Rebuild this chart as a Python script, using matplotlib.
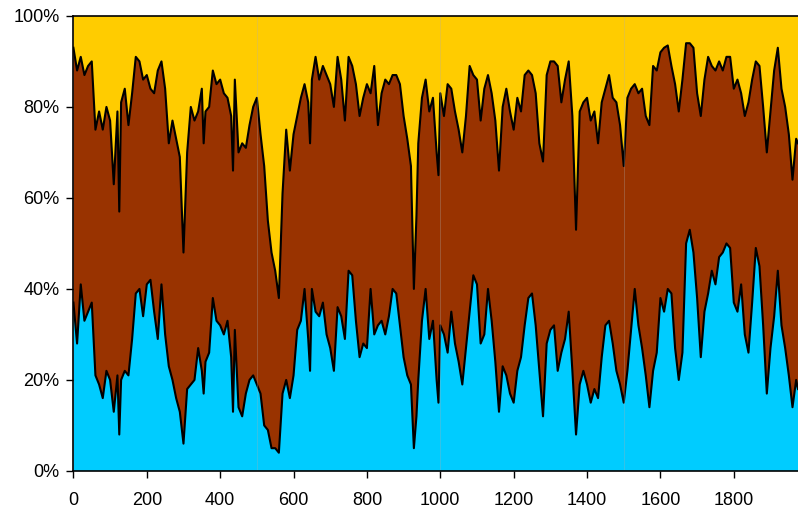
import numpy as np
import matplotlib.pyplot as plt
from matplotlib.ticker import PercentFormatter

# puntos de muestreo (eje x)
x = [0, 10, 20, 30, 40, 50, 60, 70, 80, 90, 100, 110, 120, 125, 130, 140, 150, 160, 170, 180,
     190, 200, 210, 220, 230, 240, 250, 260, 270, 280, 290, 300, 310, 320, 330, 340, 350, 355, 360, 370,
     380, 390, 400, 410, 420, 430, 435, 440, 450, 460, 470, 480, 490, 500, 510, 520, 530, 540, 550, 560,
     570, 580, 590, 600, 610, 620, 630, 640, 645, 650, 660, 670, 680, 690, 700, 710, 720, 730, 740, 750,
     760, 770, 780, 790, 800, 810, 820, 830, 840, 850, 860, 870, 880, 890, 900, 910, 920, 928, 935, 940,
     950, 960, 970, 980, 990, 995, 1000, 1010, 1020, 1030, 1040, 1050, 1060, 1070, 1080, 1090, 1100, 1110, 1120, 1130,
     1140, 1150, 1160, 1170, 1180, 1190, 1200, 1210, 1220, 1230, 1240, 1250, 1260, 1270, 1280, 1290, 1300, 1310, 1320, 1330,
     1340, 1350, 1360, 1370, 1380, 1390, 1400, 1410, 1420, 1430, 1440, 1450, 1460, 1470, 1480, 1490, 1500, 1510, 1520, 1530,
     1540, 1550, 1560, 1570, 1580, 1590, 1600, 1610, 1620, 1630, 1640, 1650, 1660, 1670, 1680, 1690, 1700, 1710, 1720, 1730,
     1740, 1750, 1760, 1770, 1780, 1790, 1800, 1810, 1820, 1830, 1840, 1850, 1860, 1870, 1880, 1890, 1900, 1910, 1920, 1930,
     1940, 1950, 1960, 1970, 1975]

# limite azul / marron (%)
inferior = [37, 28, 41, 33, 35, 37, 21, 19, 16, 22, 20, 13, 21, 8, 20, 22, 21, 29, 39, 40,
            34, 41, 42, 35, 29, 41, 30, 23, 20, 16, 13, 6, 18, 19, 20, 27, 22, 17, 24, 26,
            38, 33, 32, 30, 33, 25, 13, 31, 14, 12, 17, 20, 21, 19, 17, 10, 9, 5, 5, 4,
            17, 20, 16, 21, 31, 33, 40, 29, 22, 40, 35, 34, 37, 30, 27, 22, 36, 34, 29, 44,
            43, 33, 25, 28, 27, 40, 30, 32, 33, 30, 34, 40, 39, 32, 25, 21, 19, 5, 12, 20,
            33, 40, 29, 33, 20, 15, 32, 30, 26, 35, 28, 24, 19, 27, 35, 43, 41, 28, 30, 40,
            33, 24, 13, 23, 21, 17, 15, 22, 25, 32, 38, 39, 32, 22, 12, 28, 31, 32, 22, 26,
            29, 35, 22, 8, 19, 22, 19, 15, 18, 16, 25, 32, 33, 28, 22, 19, 15, 22, 31, 40,
            32, 27, 21, 14, 22, 26, 38, 35, 40, 39, 27, 20, 26, 50, 53, 48, 38, 25, 35, 39,
            44, 41, 47, 48, 50, 49, 37, 35, 41, 30, 26, 37, 49, 45, 32, 17, 27, 34, 44, 32,
            27, 21, 14, 20, 18]

# limite marron / amarillo (%)
superior = [93, 88, 91, 87, 89, 90, 75, 79, 75, 80, 77, 63, 79, 57, 81, 84, 76, 83, 91, 90,
            86, 87, 84, 83, 88, 90, 84, 72, 77, 73, 69, 48, 70, 80, 77, 79, 84, 72, 79, 80,
            88, 85, 86, 83, 82, 78, 66, 86, 70, 72, 71, 76, 80, 82, 74, 67, 55, 48, 44, 38,
            61, 75, 66, 74, 78, 82, 85, 81, 72, 86, 91, 86, 89, 87, 85, 80, 91, 86, 77, 91,
            89, 85, 78, 82, 85, 83, 89, 76, 83, 86, 85, 87, 87, 85, 78, 73, 67, 40, 56, 72,
            82, 86, 79, 82, 70, 65, 83, 78, 85, 84, 79, 75, 70, 78, 89, 87, 86, 77, 84, 87,
            83, 77, 66, 80, 84, 79, 75, 82, 79, 87, 88, 87, 83, 72, 68, 87, 90, 90, 89, 81,
            86, 90, 78, 53, 79, 81, 82, 77, 79, 72, 81, 84, 87, 82, 81, 76, 67, 82, 84, 85,
            83, 84, 78, 76, 89, 88, 92, 93, 93.5, 89, 85, 79, 86, 94, 94, 93, 83, 78, 86, 91,
            89, 88, 90, 88, 91, 91, 84, 86, 83, 78, 81, 86, 90, 89, 80, 70, 79, 88, 93, 84,
            80, 74, 64, 73, 72]

colores = ['#00CCFF', '#993300', '#FFCC00']


def main():
    xs = np.array(x)
    inf = np.array(inferior, dtype=float)
    sup = np.array(superior, dtype=float)

    fig = plt.figure(figsize=(7.98, 5.13), dpi=100)
    ax = fig.add_axes([0.092, 0.082, 0.908, 0.887])

    ax.stackplot(xs, inf, sup - inf, 100 - sup, colors=colores, linewidth=0)
    ax.plot(xs, inf, color='black', lw=1.5)
    ax.plot(xs, sup, color='black', lw=1.5)

    # costuras tenues cada 500
    for v in (500, 1000, 1500):
        ax.axvline(v, color='#b0b0b0', lw=0.6, alpha=0.35)

    ax.set_xlim(0, 1975)
    ax.set_ylim(0, 100)
    ax.set_xticks(range(0, 1801, 200))
    ax.set_yticks(range(0, 101, 20))
    ax.yaxis.set_major_formatter(PercentFormatter(decimals=0))
    ax.tick_params(direction='out', length=5, width=1, labelsize=13, colors='black')
    ax.tick_params(axis='x', pad=10)
    ax.tick_params(axis='y', pad=5)
    for lab in ax.get_xticklabels() + ax.get_yticklabels():
        lab.set_fontfamily(['Liberation Sans', 'DejaVu Sans'])

    for s in ['left', 'bottom', 'top']:
        ax.spines[s].set_linewidth(1.2)
    ax.spines['right'].set_visible(False)

    fig.savefig('out.png', dpi=100)


if __name__ == "__main__":
    main()
